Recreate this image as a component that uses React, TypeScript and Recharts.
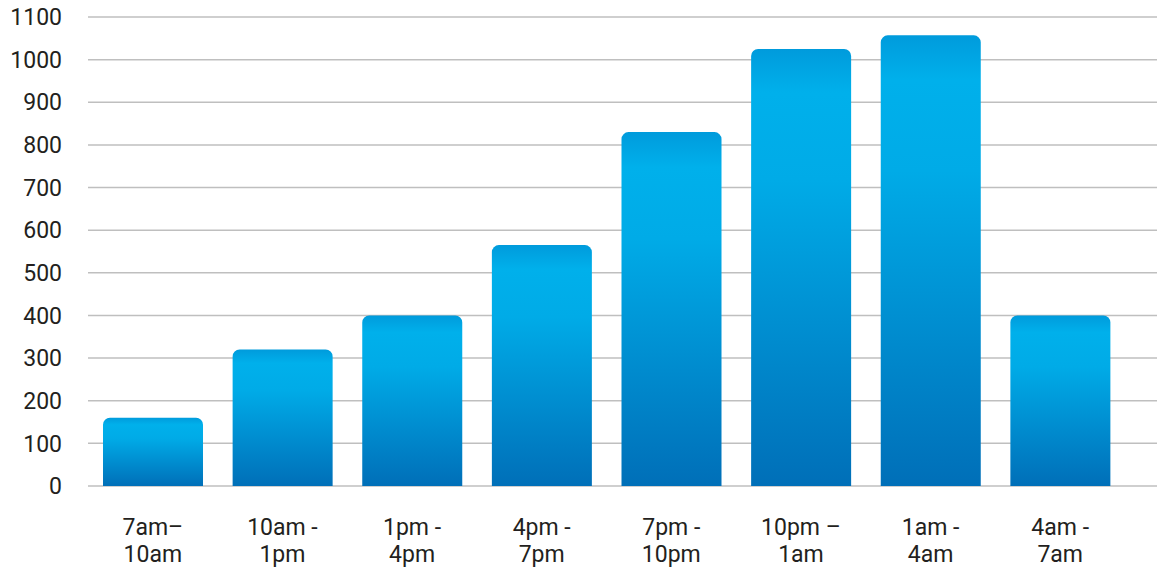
import { Bar, BarChart, CartesianGrid, XAxis, YAxis } from 'recharts';

const slots = [
  '7am–\n10am',
  '10am -\n1pm',
  '1pm -\n4pm',
  '4pm -\n7pm',
  '7pm -\n10pm',
  '10pm –\n1am',
  '1am -\n4am',
  '4am -\n7am',
];
const counts = [160, 320, 400, 565, 830, 1025, 1057, 400];
const yTicks = [0, 100, 200, 300, 400, 500, 600, 700, 800, 900, 1000, 1100];

const data = slots.map((slot, i) => ({ slot, count: counts[i] }));

const FONT = 'Roboto, "Open Sans", sans-serif';

// two-line category label, each line its own text so they don't collide
function SlotTick({ x, y, payload }: any) {
  const [a, b] = String(payload.value).split('\n');
  return (
    <g fill="#231f20" fontSize={23} fontFamily={FONT}>
      <text x={x} y={y + 41} textAnchor="middle">{a}</text>
      <text x={x} y={y + 68} textAnchor="middle">{b}</text>
    </g>
  );
}

export default function App() {
  return (
    <div style={{ position: 'absolute', left: 0, top: 0, background: '#fff' }}>
      <BarChart
        width={1157}
        height={568}
        data={data}
        margin={{ top: 17, right: 0, bottom: 0, left: 0 }}
        barSize={100}
      >
        <defs>
          <linearGradient id="barFill" x1="0" y1="0" x2="0" y2="1">
            <stop offset="0%" stopColor="#009bdc" />
            <stop offset="10%" stopColor="#00b0eb" />
            <stop offset="30%" stopColor="#00abe7" />
            <stop offset="100%" stopColor="#006fb8" />
          </linearGradient>
        </defs>
        <CartesianGrid vertical={false} stroke="#bfbfbf" strokeWidth={1.5} />
        <XAxis
          dataKey="slot"
          axisLine={false}
          tickLine={false}
          height={82}
          interval={0}
          padding={{ left: 0, right: 32 }}
          tick={<SlotTick />}
        />
        <YAxis
          domain={[0, 1100]}
          ticks={yTicks}
          axisLine={false}
          tickLine={false}
          width={88}
          tickMargin={20}
          tick={{ fontSize: 23, fill: '#231f20', fontFamily: FONT }}
        />
        <Bar
          dataKey="count"
          fill="url(#barFill)"
          radius={[7, 7, 0, 0]}
          isAnimationActive={false}
        />
      </BarChart>
    </div>
  );
}
